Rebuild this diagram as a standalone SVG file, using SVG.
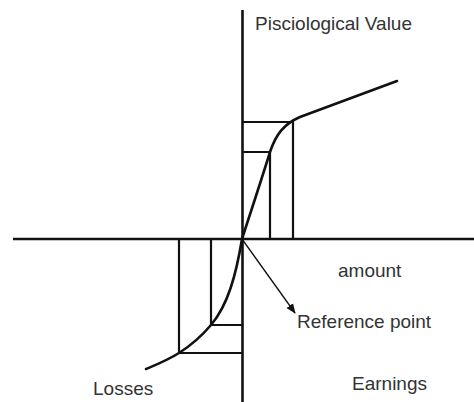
<svg xmlns="http://www.w3.org/2000/svg" width="474" height="402" viewBox="0 0 474 402">
<defs>
<style>
.ax{stroke:#111;stroke-width:2.6;fill:none}
.bx{stroke:#111;stroke-width:2.2;fill:none}
.cv{stroke:#111;stroke-width:2.6;fill:none;stroke-linecap:round}
.lb{font-family:"Liberation Sans",Arial,sans-serif;font-size:19px;fill:#333}
</style>
<marker id="ah" markerWidth="10" markerHeight="10" refX="9" refY="5" orient="auto" markerUnits="userSpaceOnUse">
<path d="M0,1 L10,5 L0,9 Z" fill="#111"/>
</marker>
</defs>
<rect width="474" height="402" fill="#fff"/>
<g id="axes">
<line class="ax" x1="13" y1="239" x2="474" y2="239"/>
<line class="ax" x1="242.5" y1="10" x2="242.5" y2="402"/>
</g>
<g id="gain-boxes">
<polyline class="bx" points="242,122 293,122 293,239"/>
<polyline class="bx" points="242,152 270,152 270,239"/>
</g>
<g id="loss-boxes">
<polyline class="bx" points="211,239 211,325 242,325"/>
<polyline class="bx" points="179,239 179,353 242,353"/>
</g>
<g id="value-curve">
<path class="cv" d="M242,239 C252,208 262,178 270,152 C276,134 284,124 300,117 L397,81"/>
<path class="cv" d="M242,239 C236,275 228,305 211,325 C200,338 190,346 179,353 C168,360 158,364 146,369"/>
</g>
<g id="connectors">
<line x1="242" y1="239" x2="295" y2="313" stroke="#111" stroke-width="1.3" marker-end="url(#ah)"/>
</g>
<g id="labels">
<text class="lb" x="255" y="30" textLength="157">Pisciological Value</text>
<text class="lb" x="338" y="277">amount</text>
<text class="lb" x="297" y="328">Reference point</text>
<text class="lb" x="352" y="390">Earnings</text>
<text class="lb" x="93" y="395">Losses</text>
</g>
</svg>
